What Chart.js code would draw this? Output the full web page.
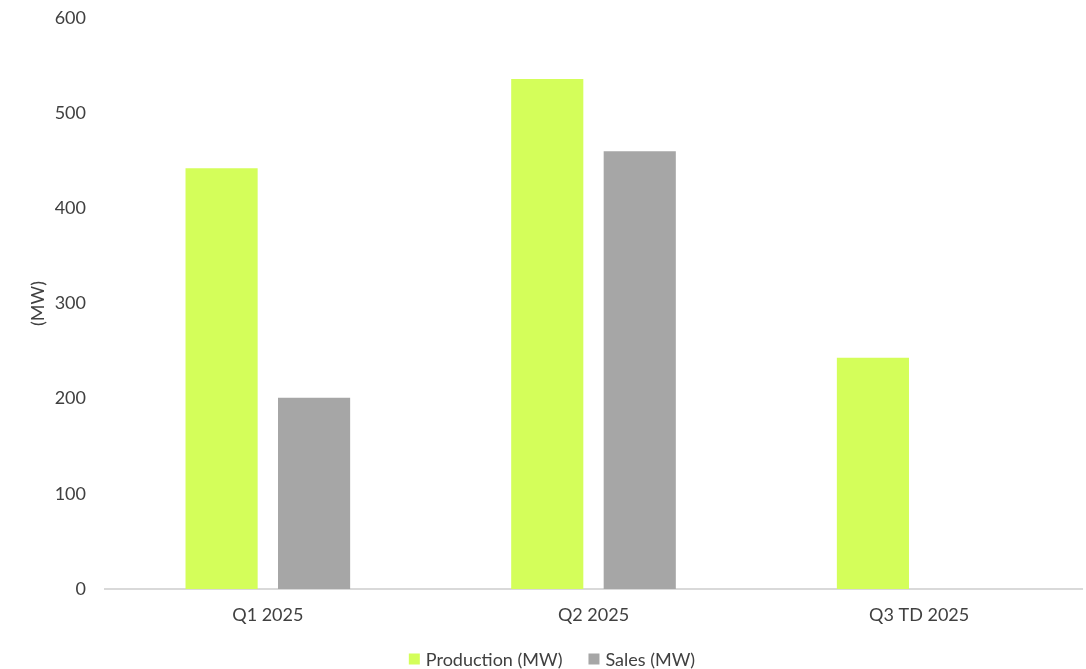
<!DOCTYPE html>
<html>
<head>
<meta charset="utf-8">
<script src="https://cdn.jsdelivr.net/npm/chart.js@4"></script>
<style>
html,body{margin:0;padding:0;background:#fff;}
#wrap{width:1086px;height:669px;position:relative;}
</style>
</head>
<body>
<div id="wrap"><canvas id="c" width="1086" height="669"></canvas></div>
<script>
const categories = ["Q1 2025", "Q2 2025", "Q3 TD 2025"];
const production = [442, 536, 243];
const sales = [201, 460, null];
const yTicks = [0, 100, 200, 300, 400, 500, 600];

const FONT = "Lato, 'Open Sans', sans-serif";
const TEXT = "#404040";
Chart.defaults.font.family = FONT;
Chart.defaults.font.size = 18;
Chart.defaults.color = TEXT;

// legend drawn from the datasets, centred under the chart
const bottomLegend = {
  id: "bottomLegend",
  afterDraw(chart) {
    const ctx = chart.ctx;
    const ds = chart.data.datasets;
    ctx.save();
    ctx.font = "18px " + FONT;
    ctx.textBaseline = "middle";
    const box = 11, gap = 6, spacing = 26;
    const widths = ds.map(d => box + gap + ctx.measureText(d.label).width);
    const total = widths.reduce((a, b) => a + b, 0) + spacing * (ds.length - 1);
    let x = 552 - total / 2;
    const y = 659;
    ds.forEach((d, i) => {
      ctx.fillStyle = d.backgroundColor;
      ctx.fillRect(x, y - box / 2, box, box);
      ctx.fillStyle = TEXT;
      ctx.textAlign = "left";
      ctx.fillText(d.label, x + box + gap, y + 1);
      x += widths[i] + spacing;
    });
    ctx.restore();
  }
};

new Chart(document.getElementById("c"), {
  type: "bar",
  data: {
    labels: categories,
    datasets: [
      { label: "Production (MW)", data: production, backgroundColor: "#d4fe5a", borderWidth: 0 },
      { label: "Sales (MW)", data: sales, backgroundColor: "#a6a6a6", borderWidth: 0 }
    ]
  },
  options: {
    responsive: false,
    animation: false,
    layout: { padding: { top: 18, right: 4, left: 0, bottom: 0 } },
    datasets: { bar: { categoryPercentage: 0.568, barPercentage: 0.78 } },
    scales: {
      x: {
        grid: { display: false, drawTicks: false },
        border: { display: true, color: "#d9d9d9", width: 2 },
        ticks: { padding: 15, color: TEXT },
        afterFit: (s) => { s.height = 80; s.paddingLeft = 0; s.paddingRight = 0; }
      },
      y: {
        min: 0, max: 600,
        afterBuildTicks: (axis) => { axis.ticks = yTicks.map(v => ({ value: v })); },
        grid: { display: false, drawTicks: false },
        border: { display: false },
        ticks: { padding: 19, color: TEXT },
        title: { display: true, text: "(MW)", color: TEXT, font: { size: 18 }, padding: { top: 27, bottom: 0 } },
        afterFit: (s) => { s.width = 105; s.paddingTop = 0; s.paddingBottom = 0; }
      }
    },
    plugins: {
      legend: { display: false },
      tooltip: { enabled: false }
    }
  },
  plugins: [bottomLegend]
});
</script>
</body>
</html>
